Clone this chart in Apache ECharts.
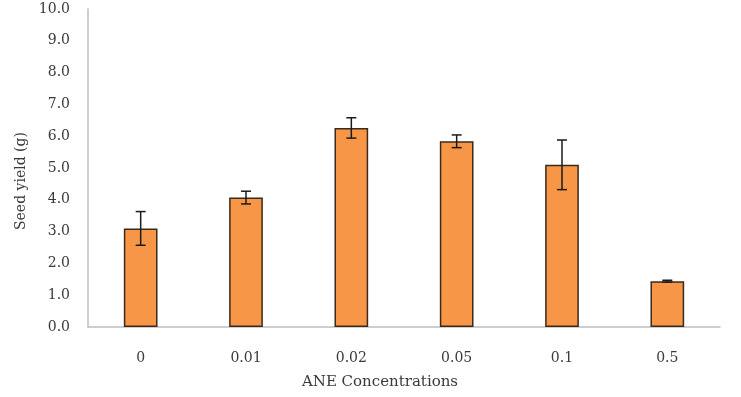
<!DOCTYPE html>
<html>
<head>
<meta charset="utf-8">
<script src="https://cdn.jsdelivr.net/npm/echarts@6/dist/echarts.min.js"></script>
<style>
  html, body { margin: 0; padding: 0; background: #fff; }
  #chart { width: 741px; height: 397px; }
</style>
</head>
<body>
<div id="chart"></div>
<script>
const categories = ['0', '0.01', '0.02', '0.05', '0.1', '0.5'];
const seedYield = [3.1, 4.07, 6.26, 5.84, 5.1, 1.44];
const errors = [0.53, 0.2, 0.32, 0.2, 0.78, 0.03];

const chart = echarts.init(document.getElementById('chart'));
const font = '"DejaVu Serif", "Liberation Serif", serif';

const errorData = seedYield.map((v, i) => [i, v - errors[i], v + errors[i]]);

const option = {
  animation: false,
  grid: { left: 88, right: 21, top: 9, bottom: 70 },
  xAxis: {
    type: 'category',
    data: categories,
    name: 'ANE Concentrations',
    nameLocation: 'middle',
    nameGap: 48,
    nameTextStyle: { color: '#3a3a3a', fontFamily: font, fontSize: 15, padding: [0, 48, 0, 0] },
    axisLine: { lineStyle: { color: '#bfbfbf', width: 1.5 } },
    axisTick: { show: false },
    axisLabel: { color: '#3a3a3a', fontFamily: font, fontSize: 14, margin: 24 }
  },
  yAxis: {
    type: 'value',
    min: 0,
    max: 10,
    interval: 1,
    name: 'Seed yield (g)',
    nameLocation: 'middle',
    nameGap: 58,
    nameTextStyle: { color: '#3a3a3a', fontFamily: font, fontSize: 14, padding: [0, 26, 0, 0] },
    axisLine: { show: true, lineStyle: { color: '#bfbfbf', width: 1.5 } },
    axisTick: { show: false },
    splitLine: { show: false },
    axisLabel: {
      color: '#3a3a3a', fontFamily: font, fontSize: 14, margin: 18,
      formatter: v => v.toFixed(1)
    }
  },
  series: [
    {
      type: 'bar',
      data: seedYield,
      barWidth: '32%',
      itemStyle: { color: '#F79646', borderColor: '#3b2a1c', borderWidth: 1.5 }
    },
    {
      type: 'custom',
      data: errorData,
      z: 10,
      renderItem: (params, api) => {
        const x = api.value(0);
        const lo = api.coord([x, api.value(1)]);
        const hi = api.coord([x, api.value(2)]);
        const hw = 5;
        const style = { stroke: '#1a1a1a', lineWidth: 1.5 };
        return {
          type: 'group',
          children: [
            { type: 'line', shape: { x1: hi[0], y1: hi[1], x2: lo[0], y2: lo[1] }, style },
            { type: 'line', shape: { x1: hi[0] - hw, y1: hi[1], x2: hi[0] + hw, y2: hi[1] }, style },
            { type: 'line', shape: { x1: lo[0] - hw, y1: lo[1], x2: lo[0] + hw, y2: lo[1] }, style }
          ]
        };
      }
    }
  ]
};

chart.setOption(option);
</script>
</body>
</html>
